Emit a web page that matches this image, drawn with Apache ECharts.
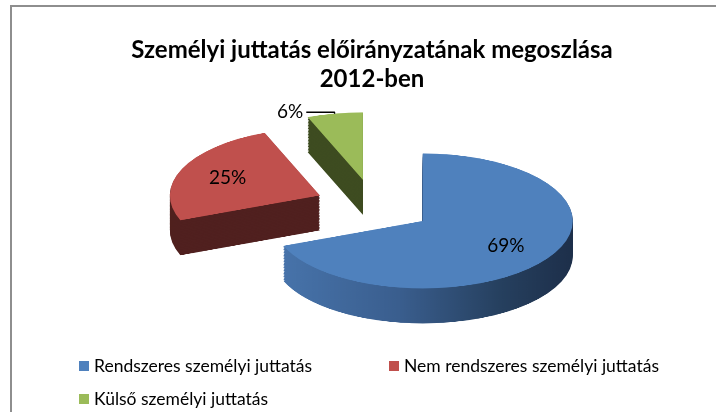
<!DOCTYPE html>
<html><head><meta charset="utf-8">
<script src="https://cdn.jsdelivr.net/npm/echarts@6/dist/echarts.min.js"></script>
<style>
html,body{margin:0;padding:0;background:#fff;overflow:hidden}
#wrap{position:relative;width:716px;height:412px;overflow:hidden;background:#fff}
#frame{position:absolute;left:10px;top:5px;width:720px;height:420px;border-left:2px solid #8e8e8e;border-top:2px solid #8e8e8e}
#pie{position:absolute;left:0;top:0;width:716px;transform-origin:0 0}
#main{position:absolute;left:0;top:0;width:716px;height:412px}
</style></head>
<body><div id="wrap"><div id="frame"></div><div id="pie"></div><div id="main"></div></div>
<script>
// ---- data ----
const categories = ['Rendszeres személyi juttatás', 'Nem rendszeres személyi juttatás', 'Külső személyi juttatás'];
const values = [69, 25, 6];
const titleLines = ['Személyi juttatás előirányzatának megoszlása', '2012-ben'];

// ---- style / layout ----
const topColors = ['#4F81BD', '#C0504D', '#9BBB59'];
const blueSide = new echarts.graphic.LinearGradient(0, 0, 1, 0, [
  {offset: 0, color: '#4773AA'}, {offset: 0.4, color: '#3A5E8E'},
  {offset: 0.75, color: '#26405F'}, {offset: 1, color: '#1D2F4A'}]);
const sideColors = [blueSide, '#50201F', '#3E4C20'];
const CX = 374, CY = 206, R = 150, K = 0.45, EXPLODE = 59, DEPTH = 35, STEP = 1.5;
const FONT = 'Lato';

const pieDiv = document.getElementById('pie');
pieDiv.style.height = (412 / K) + 'px';
pieDiv.style.transform = 'scaleY(' + K + ')';

function pieLayer(d, colors) {
  return {
    type: 'pie', center: [CX, (CY + d) / K], radius: R, startAngle: 90, clockwise: true,
    selectedMode: 'multiple', selectedOffset: EXPLODE, silent: true, animation: false,
    label: {show: false}, labelLine: {show: false}, emphasis: {disabled: true},
    itemStyle: {borderWidth: 0},
    data: categories.map((n, i) => ({name: n, value: values[i], selected: true, itemStyle: {color: colors[i]}}))
  };
}
const pieSeries = [];
for (let d = DEPTH; d > 0; d -= STEP) pieSeries.push(pieLayer(d, sideColors));
pieSeries.push(pieLayer(0, topColors));

const chartB = echarts.init(pieDiv, null, {renderer: 'canvas'});
chartB.setOption({animation: false, series: pieSeries});

// Flatten the label layout of the (circular) label pie onto the tilted ellipse.
// Positions passed in are before the explode offset, which is applied afterwards by the sector transform.
function compress(p) {
  const r = p.labelRect;
  const pts = p.labelLinePoints;
  const cy = r.y + r.height / 2;
  const anchor = pts ? pts[0] : [r.x + r.width / 2, cy];
  const vx = anchor[0] - CX, vy = anchor[1] - CY;
  const len = Math.sqrt(vx * vx + vy * vy) || 1;
  const offY = vy / len * EXPLODE;
  const squash = y => CY + (y + offY - CY) * K - offY;
  const out = {dy: squash(cy) - cy};
  if (pts) out.labelLinePoints = pts.map(q => [q[0], squash(q[1])]);
  return out;
}

const legendPos = [[79, 357], [389, 357], [79, 390]];
const chartA = echarts.init(document.getElementById('main'), null, {renderer: 'canvas'});
chartA.setOption({
  animation: false,
  title: {
    text: titleLines.join('\n'), left: 367, top: 31, textAlign: 'center',
    textStyle: {fontFamily: FONT, fontWeight: 'bold', fontSize: 24, lineHeight: 29, color: '#000'}
  },
  legend: categories.map((n, i) => ({
    data: [{name: n, itemStyle: {color: topColors[i], opacity: 1}}],
    left: legendPos[i][0], top: legendPos[i][1], padding: 0, icon: 'rect',
    itemWidth: 10, itemHeight: 10, selectedMode: false,
    textStyle: {fontFamily: FONT, fontSize: 17.5, color: '#000'}
  })),
  series: [{
    type: 'pie', center: [CX, CY], radius: [45, R], startAngle: 90, clockwise: true,
    selectedMode: 'multiple', selectedOffset: EXPLODE, silent: true, avoidLabelOverlap: false,
    emphasis: {disabled: true},
    itemStyle: {color: 'rgba(0,0,0,0)', borderWidth: 0},
    label: {show: true, position: 'inside', formatter: '{c}%', fontFamily: FONT, fontSize: 19, color: '#000'},
    labelLine: {show: false},
    labelLayout: compress,
    data: categories.map((n, i) => {
      const item = {name: n, value: values[i], selected: true};
      if (i === 2) {
        item.label = {position: 'outside', distanceToLabelLine: 3};
        item.labelLine = {show: true, length: 3, length2: 28, lineStyle: {color: '#000', width: 1.5}};
      }
      return item;
    })
  }]
});
</script></body></html>
